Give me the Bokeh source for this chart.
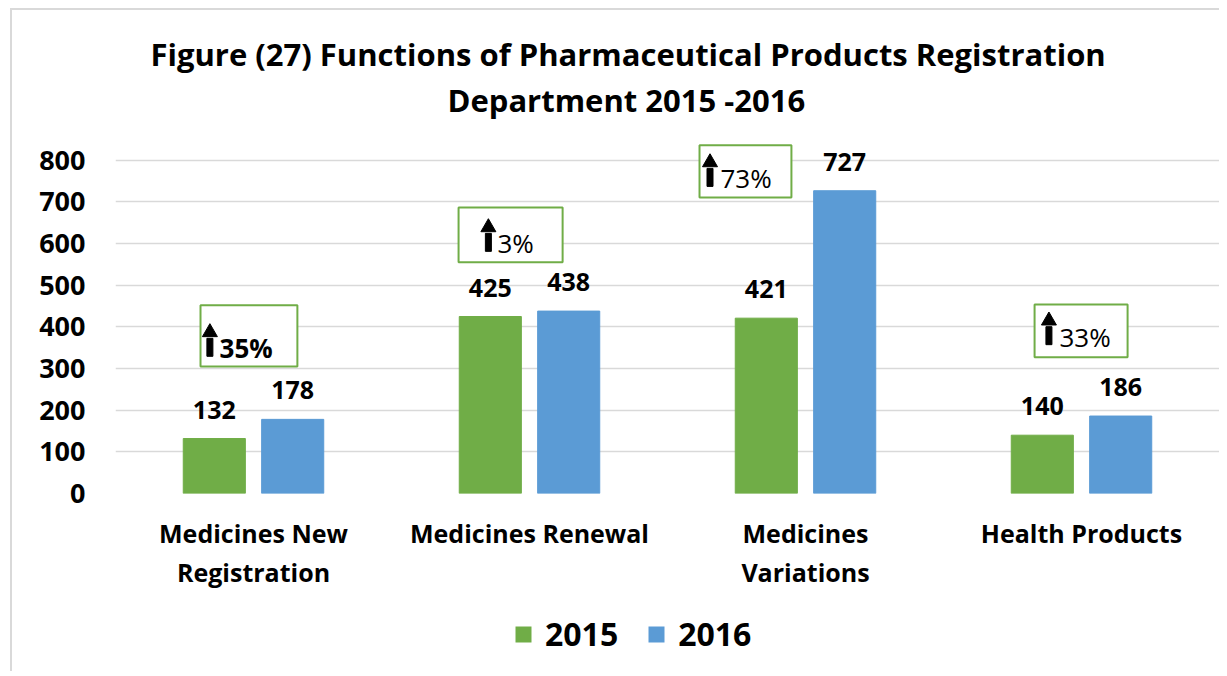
from bokeh.plotting import figure
from bokeh.layouts import column
from bokeh.models import ColumnDataSource, Range1d, FixedTicker, Legend, LegendItem, Title
from bokeh.transform import dodge
from bokeh.core.properties import value
from bokeh.embed import file_html
from bokeh.resources import INLINE

# ---------------- data ----------------
categories = ["Medicines New\nRegistration", "Medicines Renewal",
              "Medicines\nVariations", "Health Products"]
values_2015 = [132, 425, 421, 140]
values_2016 = [178, 438, 727, 186]
growth_labels = ["35%", "3%", "73%", "33%"]
series_names = ["2015", "2016"]
y_ticks = [0, 100, 200, 300, 400, 500, 600, 700, 800]
title_line1 = "Figure (27) Functions of Pharmaceutical Products Registration"
title_line2 = "Department 2015 -2016"

# ---------------- positions / styles ----------------
FONT = "Open Sans"
GREEN = "#70AD47"
BLUE = "#5B9BD5"
GRID = "#D9D9D9"

centers = [i + 0.5 for i in range(len(categories))]

# annotation boxes (data coords)
box_left = [0.308, 1.243, 2.116, 3.330]
box_right = [0.659, 1.620, 2.449, 3.667]
box_bottom = [305, 555, 711, 327]
box_top = [452, 687, 836, 454]
arrow_x = [0.342, 1.351, 2.154, 3.382]
pct_x = [0.377, 1.384, 2.192, 3.420]
pct_y = [356, 608, 764, 384]
pct_style = ["bold", "normal", "normal", "normal"]
head_y = [y + 31 for y in pct_y]
shaft_y = [y - 5 for y in pct_y]

src = ColumnDataSource(dict(
    x=centers,
    v15=values_2015, v16=values_2016,
    t15=[str(v) for v in values_2015], t16=[str(v) for v in values_2016],
))
box_src = ColumnDataSource(dict(
    left=box_left, right=box_right, bottom=box_bottom, top=box_top,
    ax=arrow_x, px=pct_x, py=pct_y, txt=growth_labels, style=pct_style,
    hy=head_y, sy=shaft_y,
))

p = figure(frame_width=1104, frame_height=354,
           x_range=Range1d(0, len(categories)), y_range=Range1d(0, 850),
           output_backend="svg", toolbar_location=None,
           min_border_left=103, min_border_right=0,
           min_border_top=129, min_border_bottom=102)
p.outline_line_color = None
p.background_fill_color = "white"
p.border_fill_color = "white"

BAR_W = 0.225
OFF = 0.142
r15 = p.vbar(x=dodge("x", -OFF), top="v15", width=BAR_W, source=src,
             fill_color=GREEN, line_color=GREEN)
r16 = p.vbar(x=dodge("x", OFF), top="v16", width=BAR_W, source=src,
             fill_color=BLUE, line_color=BLUE)

lbl_kw = dict(text_font=value(FONT), text_font_style="bold", text_font_size="25px",
              text_align="center", text_baseline="bottom", y_offset=-20,
              text_color="black", source=src)
p.text(x=dodge("x", -OFF), y="v15", text="t15", **lbl_kw)
p.text(x=dodge("x", OFF), y="v16", text="t16", **lbl_kw)

# growth annotation boxes
p.quad(left="left", right="right", bottom="bottom", top="top", source=box_src,
       fill_color="white", line_color=GREEN, line_width=2)
p.scatter(x="ax", y="hy", source=box_src, marker="triangle", size=15,
          fill_color="black", line_color="black")
p.rect(x="ax", y="sy", width=6, height=18, width_units="screen", height_units="screen",
       source=box_src, fill_color="black", line_color="black")
p.text(x="px", y="py", text="txt", source=box_src, text_font=value(FONT),
       text_font_style="style", text_font_size="26px", text_align="left",
       text_baseline="middle", text_color="black", y_offset=3)

# axes
p.xaxis.ticker = FixedTicker(ticks=centers)
p.xaxis.major_label_overrides = {c: lab for c, lab in zip(centers, categories)}
p.xaxis.axis_line_color = None
p.xaxis.major_tick_line_color = None
p.xaxis.minor_tick_line_color = None
p.xaxis.major_label_text_font = FONT
p.xaxis.major_label_text_font_style = "bold"
p.xaxis.major_label_text_font_size = "25px"
p.xaxis.major_label_text_line_height = 1.15
p.xaxis.major_label_text_color = "black"
p.xaxis.major_label_standoff = 16

p.yaxis.ticker = FixedTicker(ticks=y_ticks)
p.yaxis.axis_line_color = None
p.yaxis.major_tick_line_color = None
p.yaxis.minor_tick_line_color = None
p.yaxis.major_label_text_font = FONT
p.yaxis.major_label_text_font_style = "bold"
p.yaxis.major_label_text_font_size = "27px"
p.yaxis.major_label_text_color = "black"
p.yaxis.major_label_standoff = 24

p.xgrid.grid_line_color = None
p.ygrid.ticker = FixedTicker(ticks=y_ticks)
p.ygrid.grid_line_color = GRID
p.ygrid.grid_line_width = 1.5

# titles (first added is closest to the frame)
p.add_layout(Title(text=title_line2, align="left", offset=332,
                   text_font=FONT, text_font_style="bold", text_font_size="31px",
                   text_color="black", standoff=37), "above")
p.add_layout(Title(text=title_line1, align="left", offset=35,
                   text_font=FONT, text_font_style="bold", text_font_size="31px",
                   text_color="black", standoff=-32), "above")

# legend strip below the chart (its own small figure; zero-size proxy glyphs)
lf = figure(width=1207, height=76, output_backend="svg", toolbar_location=None,
            x_range=Range1d(0, 1), y_range=Range1d(0, 1),
            x_axis_type=None, y_axis_type=None, min_border=0)
lf.outline_line_color = None
lf.xgrid.grid_line_color = None
lf.ygrid.grid_line_color = None
l15 = lf.vbar(x=[0], top=[0], bottom=[0], width=0, fill_color=GREEN, line_color=None)
l16 = lf.vbar(x=[0], top=[0], bottom=[0], width=0, fill_color=BLUE, line_color=None)
legend = Legend(items=[LegendItem(label=series_names[0], renderers=[l15]),
                       LegendItem(label=series_names[1], renderers=[l16])],
                orientation="horizontal", location=(398, 16),
                label_text_font=FONT, label_text_font_style="bold",
                label_text_font_size="32px", label_text_color="black",
                glyph_width=20, glyph_height=20, label_standoff=12, spacing=28,
                border_line_color=None, background_fill_color=None,
                padding=0, margin=0)
lf.add_layout(legend, "center")

layout = column(p, lf, spacing=0)
layout.styles = {"margin-left": "10px", "margin-top": "8px",
                 "border-left": "2px solid #D9D9D9", "border-top": "2px solid #D9D9D9"}

open("out.html", "w").write(file_html(layout, INLINE))
